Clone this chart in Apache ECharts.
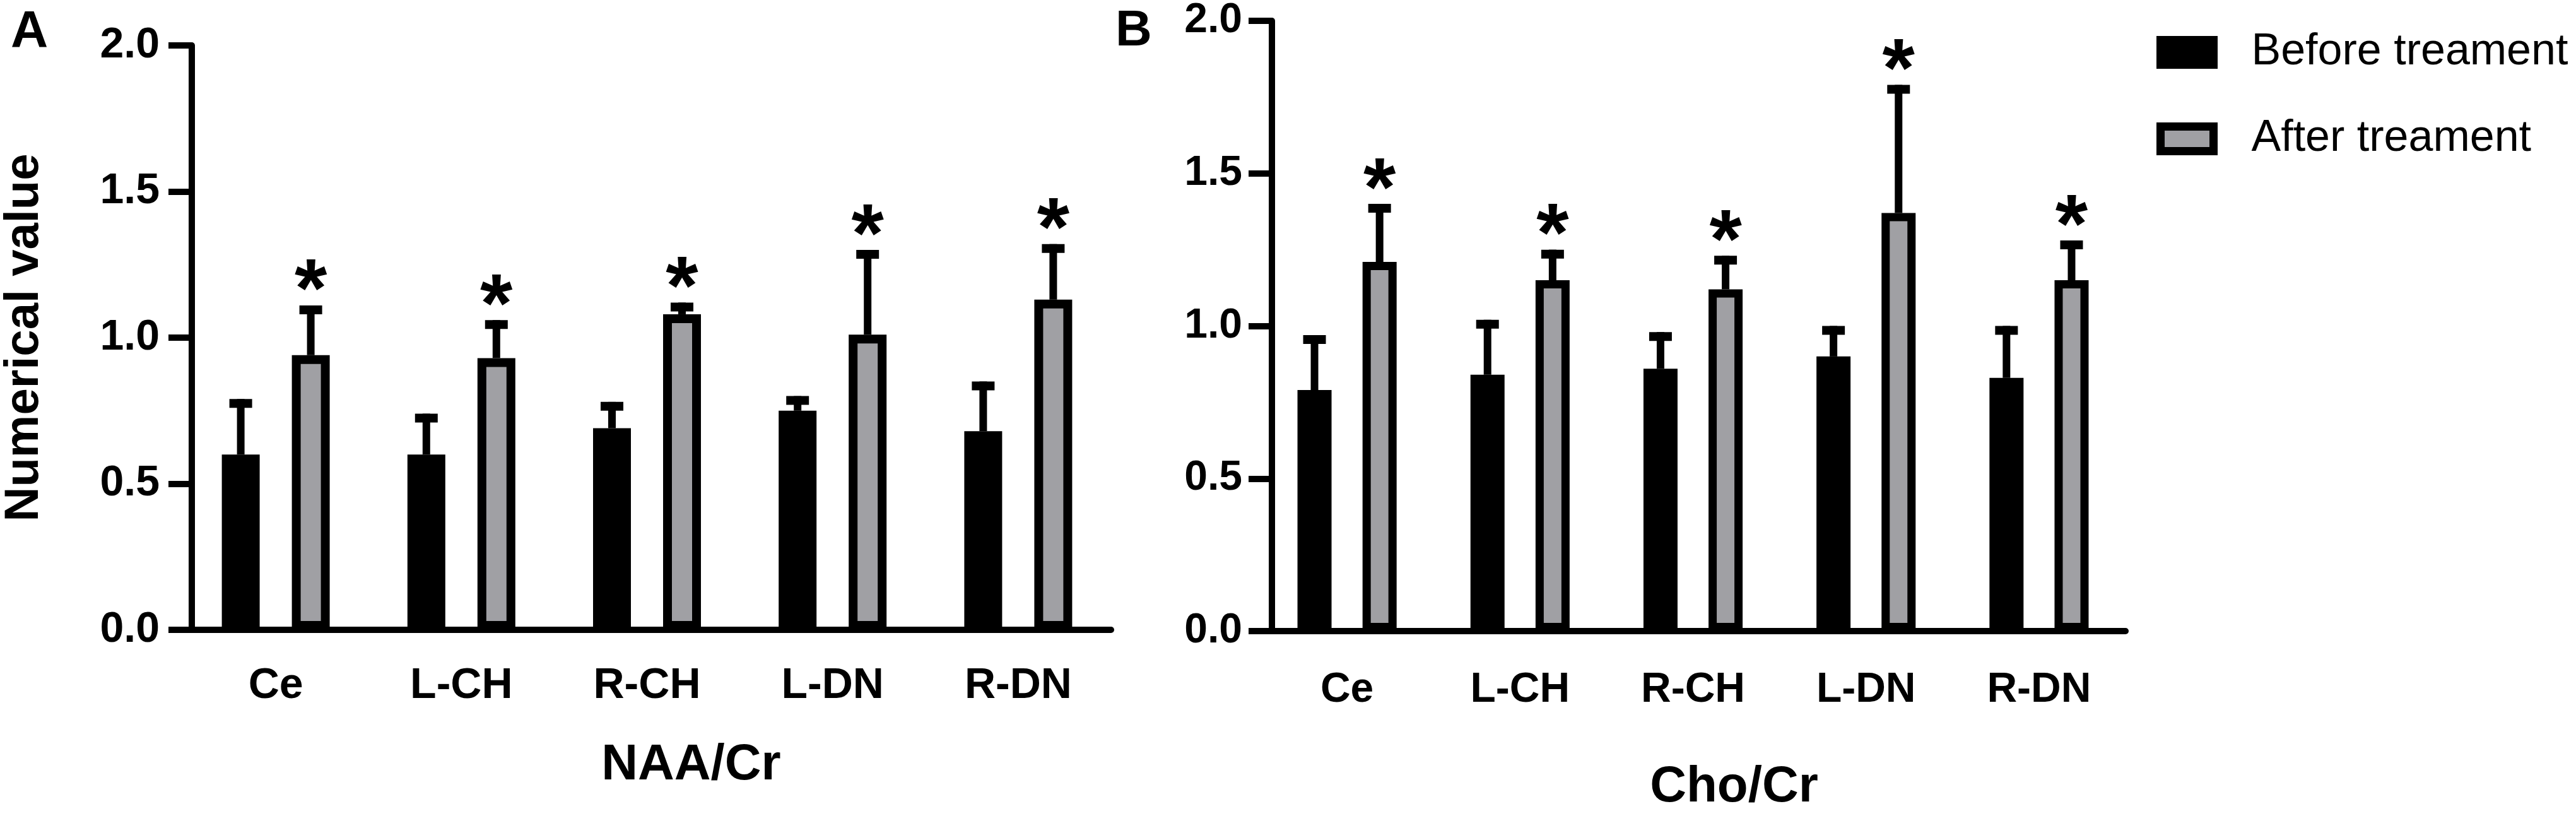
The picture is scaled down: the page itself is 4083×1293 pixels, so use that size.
<!DOCTYPE html>
<html lang="en">
<head>
    <meta charset="UTF-8">
    <title>NAA/Cr and Cho/Cr</title>
    <script src="https://cdn.jsdelivr.net/npm/echarts@6/dist/echarts.min.js"></script>
    <style>
        body { margin: 0; background: #fff; }
        #container { width: 4083px; height: 1293px; }
    </style>
</head>
<body>
    <div id="container"></div>
    <script type="text/javascript">
        // data
        var categories = ['Ce', 'L-CH', 'R-CH', 'L-DN', 'R-DN'];
        var yTicks = [0, 0.5, 1.0, 1.5, 2.0];

        var naaBefore = [0.60, 0.60, 0.69, 0.75, 0.68];
        var naaBeforeUp = [0.79, 0.74, 0.78, 0.80, 0.85];
        var naaAfter = [0.94, 0.93, 1.08, 1.01, 1.13];
        var naaAfterUp = [1.11, 1.06, 1.12, 1.30, 1.32];

        var choBefore = [0.79, 0.84, 0.86, 0.90, 0.83];
        var choBeforeUp = [0.97, 1.02, 0.98, 1.00, 1.00];
        var choAfter = [1.21, 1.15, 1.12, 1.37, 1.15];
        var choAfterUp = [1.40, 1.25, 1.23, 1.79, 1.28];

        var font = "'Liberation Sans', Arial, sans-serif";
        var gray = '#a0a0a4';

        var dom = document.getElementById('container');
        var myChart = echarts.init(dom, null, { renderer: 'canvas' });

        // bar rect width, border and gap (fraction of width) per panel
        var panels = [
            { barW: 60, border: 14, gap: 0.85 },
            { barW: 54, border: 13, gap: 0.91 }
        ];

        function errPoints(mean, up) {
            return categories.map(function (c, i) { return [i, mean[i], up[i]]; });
        }

        function errorRender(offset, star) {
            return function (params, api) {
                var cx = api.coord([api.value(0), 0])[0] + offset;
                var yMean = api.coord([api.value(0), api.value(1)])[1];
                var yUp = api.coord([api.value(0), api.value(2)])[1];
                var kids = [
                    { type: 'rect', shape: { x: cx - 6, y: yUp, width: 12, height: yMean - yUp }, style: { fill: '#000' } },
                    { type: 'rect', shape: { x: cx - 18, y: yUp, width: 36, height: 14 }, style: { fill: '#000' } }
                ];
                if (star) {
                    kids.push({
                        type: 'text',
                        style: {
                            text: '*', x: cx, y: yUp - 18, align: 'center', verticalAlign: 'middle',
                            fill: '#000', fontSize: 132, fontWeight: 'bold', fontFamily: font
                        }
                    });
                }
                return { type: 'group', children: kids };
            };
        }

        function yAxisOf(gi, offset, labelSize, margin) {
            return {
                type: 'value', gridIndex: gi, min: 0, max: 2, interval: 0.5, offset: offset,
                name: gi === 0 ? 'Numerical value' : '',
                nameLocation: 'middle', nameGap: 227,
                nameTextStyle: { fontSize: 76, fontWeight: 'bold', fontFamily: font, color: '#000' },
                axisLine: { show: true, lineStyle: { color: '#000', width: 10 } },
                axisTick: { show: true, length: 37, lineStyle: { color: '#000', width: 10 } },
                splitLine: { show: false },
                axisLabel: {
                    margin: margin, fontSize: labelSize, fontWeight: 'bold', fontFamily: font, color: '#000',
                    formatter: function (v) { return yTicks.indexOf(v) >= 0 ? v.toFixed(1) : ''; }
                }
            };
        }

        function xAxisOf(gi, title, labelSize, margin, nameGap, shift) {
            return {
                type: 'category', gridIndex: gi, data: categories,
                name: title, nameLocation: 'middle', nameGap: nameGap,
                nameTextStyle: { fontSize: 80, fontWeight: 'bold', fontFamily: font, color: '#000', padding: [0, 0, 0, shift] },
                axisLine: { lineStyle: { color: '#000', width: 10 } },
                axisTick: { alignWithLabel: true, length: 38, lineStyle: { color: '#000', width: 10 } },
                axisLabel: { margin: margin, fontSize: labelSize, fontWeight: 'bold', fontFamily: font, color: '#000' }
            };
        }

        function barSeries(name, gi, data, color, p) {
            return {
                name: name, type: 'bar', xAxisIndex: gi, yAxisIndex: gi, data: data,
                barWidth: p.barW, barGap: (p.gap * 100) + '%',
                itemStyle: { color: color, borderColor: '#000', borderWidth: p.border },
                emphasis: { disabled: true }
            };
        }

        function errSeries(gi, mean, up, offset, star) {
            return {
                type: 'custom', xAxisIndex: gi, yAxisIndex: gi, z: 5, clip: false,
                renderItem: errorRender(offset, star),
                data: errPoints(mean, up)
            };
        }

        var offA = panels[0].barW * (1 + panels[0].gap) / 2;
        var offB = panels[1].barW * (1 + panels[1].gap) / 2;

        var option = {
            animation: false,
            backgroundColor: '#fff',
            grid: [
                { left: 276, top: 72, width: 1485, height: 926 },
                { left: 1998, top: 26, width: 1371, height: 975 }
            ],
            legend: {
                orient: 'vertical', left: 3413, top: 38,
                data: ['Before treament', 'After treament'],
                icon: 'rect', itemWidth: 84, itemHeight: 39, itemGap: 57,
                itemStyle: { borderColor: '#000', borderWidth: 13 },
                textStyle: { fontSize: 70, fontFamily: font, color: '#000', lineHeight: 80, padding: [0, 0, 0, 55] },
                selectedMode: false
            },
            graphic: [
                { type: 'text', left: 17, top: 10, style: { text: 'A', fontSize: 82, fontWeight: 'bold', fontFamily: font, fill: '#000' } },
                { type: 'text', left: 1768, top: 10, style: { text: 'B', fontSize: 80, fontWeight: 'bold', fontFamily: font, fill: '#000' } }
            ],
            xAxis: [
                xAxisOf(0, 'NAA/Cr', 68, 55, 175, 140),
                xAxisOf(1, 'Cho/Cr', 66, 61, 208, 130)
            ],
            yAxis: [
                yAxisOf(0, -14, 68, 51),
                yAxisOf(1, -18, 66, 47)
            ],
            series: [
                barSeries('Before treament', 0, naaBefore, '#000', panels[0]),
                barSeries('After treament', 0, naaAfter, gray, panels[0]),
                errSeries(0, naaBefore, naaBeforeUp, -offA, false),
                errSeries(0, naaAfter, naaAfterUp, offA, true),
                barSeries('Before treament', 1, choBefore, '#000', panels[1]),
                barSeries('After treament', 1, choAfter, gray, panels[1]),
                errSeries(1, choBefore, choBeforeUp, -offB, false),
                errSeries(1, choAfter, choAfterUp, offB, true)
            ]
        };

        myChart.setOption(option);
        window.addEventListener('resize', myChart.resize);
    </script>
</body>
</html>
